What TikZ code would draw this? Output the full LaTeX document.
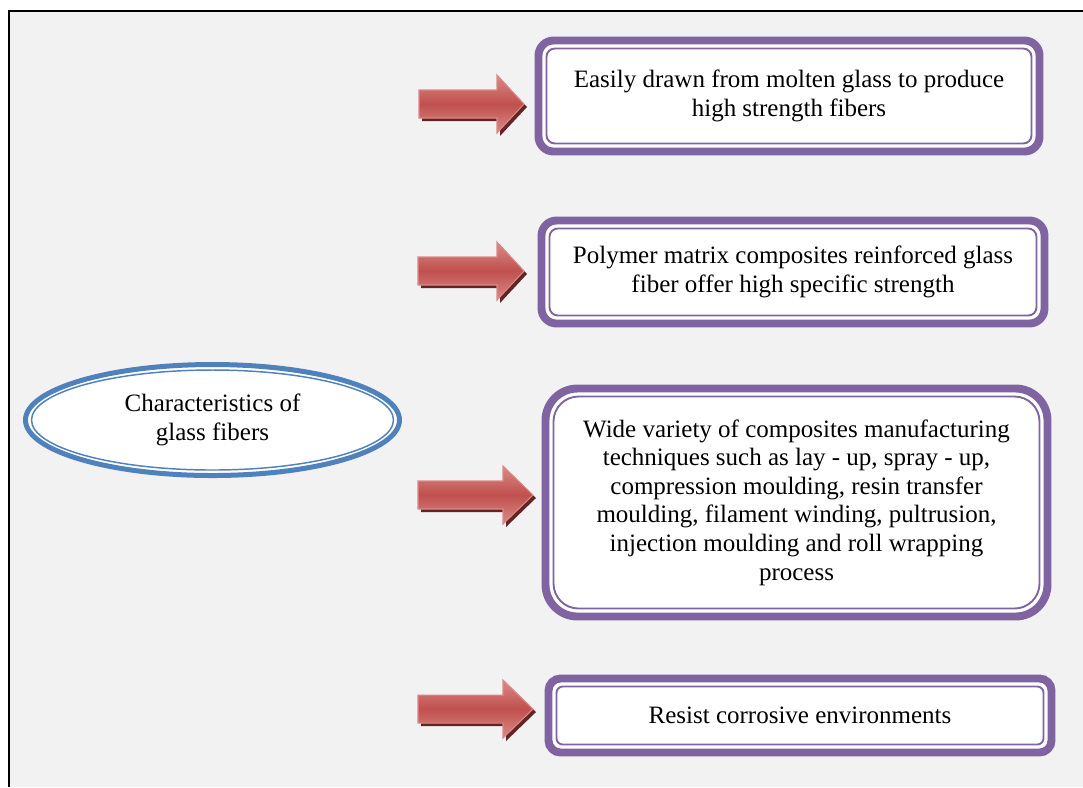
\documentclass[tikz,border=0pt]{standalone}
\usepackage{fontspec}
\setmainfont{Liberation Serif}
\usetikzlibrary{shapes.geometric}
\definecolor{frameGray}{HTML}{F2F2F2}
\definecolor{boxPurple}{HTML}{8064A2}
\definecolor{ovalBlue}{HTML}{4F81BD}
\definecolor{arrowRed}{HTML}{C0504D}
\definecolor{arrowLight}{HTML}{DA8A87}
\definecolor{arrowShadow}{HTML}{632523}
\newcommand\pxUnit{0.48pt}
\newcommand\boxLineWidth{3.8pt}
\newcommand\innerLineWidth{0.9pt}
\newcommand\ovalLineWidth{2.4pt}
\newcommand\frameLineWidth{1.3pt}
\newcommand\textFont{\fontsize{12}{13.7}\selectfont}

\tikzset{
    infoBox/.style={draw=boxPurple, line width=\boxLineWidth, fill=white, shape=rectangle, align=center, inner sep=0pt, font=\textFont},
    innerLine/.style={draw=boxPurple, line width=\innerLineWidth}
}

\begin{document}
\begin{tikzpicture}[x=0.48pt, y=-0.48pt]

    \useasboundingbox (0,0) rectangle (1083,787);

    % background panel, only its left and top edges show
    \fill[frameGray] (9,11) rectangle (1083,787);
    \draw[black, line width=\frameLineWidth] (9,787) -- (9,11) -- (1083,11);

    % the oval on the left
    \node [draw=ovalBlue, line width=\ovalLineWidth, fill=white, shape=ellipse, minimum width=374*\pxUnit, minimum height=111*\pxUnit, inner sep=0pt, align=center, font=\textFont] (Oval_Characteristics) at (212.5,420) {Characteristics of\\glass fibers};
    \draw[ovalBlue, line width=0.7pt] (Oval_Characteristics.center) ellipse [x radius=181*\pxUnit, y radius=50*\pxUnit];

    % the four boxes on the right
    \node [infoBox, minimum width=501*\pxUnit, minimum height=111*\pxUnit, rounded corners=15*\pxUnit] (Box_Drawn) at (789,96) {Easily drawn from molten glass to produce\\high strength fibers};
    \node [infoBox, minimum width=503*\pxUnit, minimum height=103*\pxUnit, rounded corners=15*\pxUnit] (Box_Polymer) at (793,272) {Polymer matrix composites reinforced glass\\fiber offer high specific strength};
    \node [infoBox, minimum width=502*\pxUnit, minimum height=228*\pxUnit, rounded corners=32*\pxUnit] (Box_Techniques) at (796.5,502.5) {Wide variety of composites manufacturing\\techniques such as lay - up, spray - up,\\compression moulding, resin transfer\\moulding, filament winding, pultrusion,\\injection moulding and roll wrapping\\process};
    \node [infoBox, minimum width=503*\pxUnit, minimum height=74*\pxUnit, rounded corners=12*\pxUnit] (Box_Corrosive) at (800,715.5) {Resist corrosive environments};

    % thin inner outline of each box
    \draw[innerLine, rounded corners=4pt] (546.5,48.5) rectangle (1031.5,143.5);
    \draw[innerLine, rounded corners=4pt] (549.5,228.5) rectangle (1036.5,315.5);
    \draw[innerLine, rounded corners=12pt] (553.5,396.5) rectangle (1039.5,608.5);
    \draw[innerLine, rounded corners=3pt] (556.5,686.5) rectangle (1043.5,744.5);

    % block arrows: tail x / head base x / tip x / middle y
    \foreach \tailX/\headX/\tipX/\midY in {419/497/524/104, 418/497/524/271, 418/503/533/495, 418/503/533/709}{
        \fill[arrowShadow, shift={(3,3)}] (\tailX,\midY-14) -- (\headX,\midY-14) -- (\headX,\midY-29) -- (\tipX,\midY) -- (\headX,\midY+29) -- (\headX,\midY+14) -- (\tailX,\midY+14) -- cycle;
        \draw[draw=arrowLight, line width=0.5pt, top color=arrowLight, bottom color=arrowLight, middle color=arrowRed] (\tailX,\midY-14) -- (\headX,\midY-14) -- (\headX,\midY-29) -- (\tipX,\midY) -- (\headX,\midY+29) -- (\headX,\midY+14) -- (\tailX,\midY+14) -- cycle;
    }

\end{tikzpicture}
\end{document}
